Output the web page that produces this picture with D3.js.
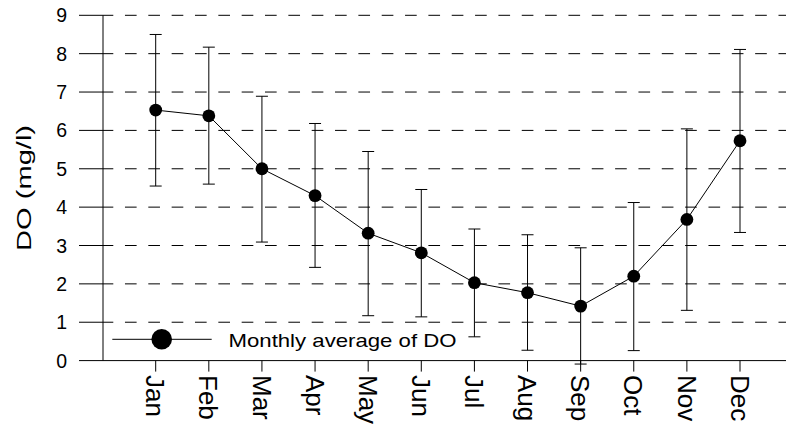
<!DOCTYPE html>
<html>
<head>
<meta charset="utf-8">
<script src="https://cdn.jsdelivr.net/npm/d3@7"></script>
<style>
  body { margin: 0; background: #fff; }
  text { font-family: "Liberation Sans", Arial, sans-serif; fill: #000; }
</style>
</head>
<body>
<svg id="chart"></svg>
<script>
var w = 786;
var h = 429;

// monthly DO
var months = ["Jan", "Feb", "Mar", "Apr", "May", "Jun", "Jul", "Aug", "Sep", "Oct", "Nov", "Dec"];
var doMean = [6.53, 6.38, 5.00, 4.30, 3.32, 2.81, 2.03, 1.77, 1.42, 2.20, 3.68, 5.73];
var doUpper = [8.50, 8.17, 6.89, 6.18, 5.45, 4.46, 3.43, 3.28, 2.94, 4.12, 6.04, 8.11];
var doLower = [4.55, 4.60, 3.09, 2.43, 1.17, 1.14, 0.62, 0.27, -0.09, 0.26, 1.31, 3.34];
var yTicks = [0, 1, 2, 3, 4, 5, 6, 7, 8, 9];
var legendLabel = "Monthly average of DO";
var yLabel = "DO (mg/l)";

var svg = d3.select("#chart")
    .attr("width", w)
    .attr("height", h);

var axisX = 103;
var y = d3.scaleLinear().domain([0, 9]).range([360.6, 15.3]);
var x = d3.scalePoint().domain(months).range([155.7, 740]);

var data = months.map(function (m, i) {
    return { month: m, mean: doMean[i], lo: doLower[i], hi: doUpper[i] };
});

// grid lines: solid tick part, then dashes
var grid = svg.append("g");
grid.selectAll(".tick-solid")
    .data(yTicks.filter(function (d) { return d > 0; }))
    .enter().append("line")
    .attr("x1", 79).attr("x2", 113.3)
    .attr("y1", function (d) { return y(d); })
    .attr("y2", function (d) { return y(d); })
    .style("stroke", "#000")
    .style("stroke-width", 1);
grid.selectAll(".dash")
    .data(yTicks.filter(function (d) { return d > 0; }))
    .enter().append("line")
    .attr("x1", 113.3).attr("x2", w)
    .attr("y1", function (d) { return y(d); })
    .attr("y2", function (d) { return y(d); })
    .style("stroke", "#000")
    .style("stroke-width", 1)
    .style("stroke-dasharray", "11.67,11.67")
    .style("stroke-dashoffset", 11.67);

// axes
svg.append("line")
    .attr("x1", axisX).attr("x2", axisX)
    .attr("y1", y(9)).attr("y2", y(0))
    .style("stroke", "#000");
svg.append("line")
    .attr("x1", 79).attr("x2", w)
    .attr("y1", y(0)).attr("y2", y(0))
    .style("stroke", "#000");

svg.append("g").selectAll("text")
    .data(yTicks)
    .enter().append("text")
    .attr("x", 67)
    .attr("y", function (d) { return y(d); })
    .attr("dy", "0.36em")
    .attr("text-anchor", "end")
    .style("font-size", "19.5px")
    .text(function (d) { return d; });

// x ticks + rotated month labels
var xt = svg.append("g").selectAll("g")
    .data(months)
    .enter().append("g")
    .attr("transform", function (d) { return "translate(" + x(d) + ",0)"; });
xt.append("line")
    .attr("y1", y(0)).attr("y2", y(0) + 11)
    .style("stroke", "#000");
xt.append("text")
    .attr("transform", "translate(0,375) rotate(90)")
    .attr("dy", "0.36em")
    .attr("text-anchor", "start")
    .style("font-size", "26px")
    .text(function (d) { return d; });

// y label
svg.append("text")
    .attr("transform", "translate(23," + y(4.5) + ") rotate(-90)")
    .attr("dy", "0.36em")
    .attr("text-anchor", "middle")
    .attr("textLength", 126)
    .attr("lengthAdjust", "spacingAndGlyphs")
    .style("font-size", "21px")
    .text(yLabel);

// error bars
var eb = svg.append("g").selectAll("g")
    .data(data)
    .enter().append("g");
eb.append("line")
    .attr("x1", function (d) { return x(d.month); })
    .attr("x2", function (d) { return x(d.month); })
    .attr("y1", function (d) { return y(d.hi); })
    .attr("y2", function (d) { return y(d.lo); })
    .style("stroke", "#000");
eb.selectAll(".cap")
    .data(function (d) { return [[d.month, d.hi], [d.month, d.lo]]; })
    .enter().append("line")
    .attr("x1", function (d) { return x(d[0]) - 6; })
    .attr("x2", function (d) { return x(d[0]) + 6; })
    .attr("y1", function (d) { return y(d[1]); })
    .attr("y2", function (d) { return y(d[1]); })
    .style("stroke", "#000");

// mean line + dots
var line = d3.line()
    .x(function (d) { return x(d.month); })
    .y(function (d) { return y(d.mean); });
svg.append("path")
    .datum(data)
    .attr("d", line)
    .style("fill", "none")
    .style("stroke", "#000")
    .style("stroke-width", 1);
svg.append("g").selectAll("circle")
    .data(data)
    .enter().append("circle")
    .attr("cx", function (d) { return x(d.month); })
    .attr("cy", function (d) { return y(d.mean); })
    .attr("r", 6.4)
    .style("fill", "#000");

// legend
var lg = svg.append("g").attr("transform", "translate(0,339.3)");
lg.append("line")
    .attr("x1", 112.3).attr("x2", 211.7)
    .style("stroke", "#000");
lg.append("circle")
    .attr("cx", 161.7)
    .attr("r", 10.3)
    .style("fill", "#000");
lg.append("text")
    .attr("x", 228.5)
    .attr("y", 7.4)
    .attr("textLength", 228)
    .attr("lengthAdjust", "spacingAndGlyphs")
    .style("font-size", "18.6px")
    .text(legendLabel);
</script>
</body>
</html>
